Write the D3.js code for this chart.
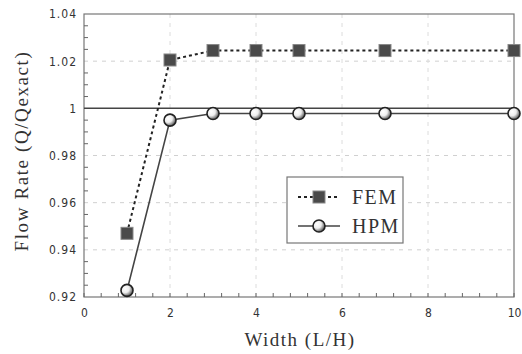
<!DOCTYPE html>
<html><head><meta charset="utf-8">
<script src="https://cdn.jsdelivr.net/npm/d3@7"></script>
<style>body{margin:0;background:#fff}svg{display:block}</style>
</head><body>
<script>
const xValues = [1, 2, 3, 4, 5, 7, 10];
const femValues = [0.947, 1.0205, 1.0245, 1.0245, 1.0245, 1.0245, 1.0245];
const hpmValues = [0.9228, 0.995, 0.9978, 0.9978, 0.9978, 0.9978, 0.9978];
const xTicks = [0, 2, 4, 6, 8, 10];
const yTicks = [0.92, 0.94, 0.96, 0.98, 1, 1.02, 1.04];
const yTickLabels = ["0.92", "0.94", "0.96", "0.98", "1", "1.02", "1.04"];
const seriesNames = ["FEM", "HPM"];

const W = 522, H = 354;
const L = 84, R = 514, T = 14, B = 297;
const svg = d3.select("body").append("svg").attr("width", W).attr("height", H);
const defs = svg.append("defs");
const rg = defs.append("radialGradient").attr("id", "ball").attr("cx", "35%").attr("cy", "35%").attr("r", "75%");
rg.append("stop").attr("offset", "0%").attr("stop-color", "#fff");
rg.append("stop").attr("offset", "45%").attr("stop-color", "#eee");
rg.append("stop").attr("offset", "80%").attr("stop-color", "#777");
rg.append("stop").attr("offset", "100%").attr("stop-color", "#333");

const x = d3.scaleLinear().domain([0, 10]).range([L, R]);
const y = d3.scaleLinear().domain([0.92, 1.04]).range([B, T]);

// gridlines
const grid = svg.append("g");
grid.selectAll(".hg").data(yTicks.filter(v => v > 0.921 && v < 1.039 && Math.abs(v - 1) > 1e-6)).join("line")
  .attr("x1", L).attr("x2", R).attr("y1", d => y(d)).attr("y2", d => y(d))
  .attr("stroke", "#d0d0d0").attr("stroke-width", 1).attr("stroke-dasharray", "4,5");
grid.selectAll(".vg").data(xTicks.filter(v => v > 0 && v < 10)).join("line")
  .attr("x1", d => x(d)).attr("x2", d => x(d)).attr("y1", T).attr("y2", B)
  .attr("stroke", "#dcdcdc").attr("stroke-width", 1).attr("stroke-dasharray", "4,5");

// frame
svg.append("rect").attr("x", L).attr("y", T).attr("width", R - L).attr("height", B - T)
  .attr("fill", "none").attr("stroke", "#777").attr("stroke-width", 1.2);

// minor ticks (inward)
const yMinor = d3.range(0, 25).map(i => 0.92 + i * 0.005);
svg.append("g").selectAll("line").data(yMinor).join("line")
  .attr("x1", L).attr("x2", d => L + (Math.round(d * 1000) % 20 === 0 ? 0 : 4))
  .attr("y1", d => y(d)).attr("y2", d => y(d)).attr("stroke", "#666").attr("stroke-width", 1);
const xMinor = d3.range(0, 26).map(i => i * 0.4);
svg.append("g").selectAll("line").data(xMinor).join("line")
  .attr("x1", d => x(d)).attr("x2", d => x(d)).attr("y1", B).attr("y2", B - 4)
  .attr("stroke", "#666").attr("stroke-width", 1);

// reference line y=1
svg.append("line").attr("x1", L).attr("x2", R).attr("y1", y(1)).attr("y2", y(1))
  .attr("stroke", "#444").attr("stroke-width", 1.5);

// axes labels via d3 axes
const yAxis = d3.axisLeft(y).tickValues(yTicks).tickFormat((d, i) => yTickLabels[i]).tickSize(0).tickPadding(7);
const gy = svg.append("g").attr("transform", `translate(${L},0)`).call(yAxis);
gy.select(".domain").remove();
gy.selectAll("text").attr("font-family", "'Liberation Sans Narrow', 'DejaVu Sans Condensed', sans-serif")
  .attr("font-size", 12).attr("fill", "#333").attr("letter-spacing", "1px");

const xAxis = d3.axisBottom(x).tickValues(xTicks).tickFormat(d3.format("d")).tickSize(0).tickPadding(11);
const gx = svg.append("g").attr("transform", `translate(0,${B})`).call(xAxis);
gx.select(".domain").remove();
gx.selectAll("text").attr("font-family", "'Liberation Sans Narrow', 'DejaVu Sans Condensed', sans-serif")
  .attr("font-size", 12).attr("fill", "#333");

// titles
svg.append("text").attr("x", 300).attr("y", 346).attr("text-anchor", "middle")
  .attr("font-family", "'Liberation Serif', serif").attr("font-size", 19).attr("letter-spacing", "1.5px")
  .attr("fill", "#333").text("Width (L/H)");
svg.append("text").attr("transform", "translate(28,151) rotate(-90)").attr("text-anchor", "middle")
  .attr("font-family", "'Liberation Serif', serif").attr("font-size", 19).attr("letter-spacing", "1.6px")
  .attr("fill", "#333").text("Flow Rate (Q/Qexact)");

// series
const femData = xValues.map((v, i) => [v, femValues[i]]);
const hpmData = xValues.map((v, i) => [v, hpmValues[i]]);
const line = d3.line().x(d => x(d[0])).y(d => y(d[1]));

svg.append("path").attr("d", line(hpmData)).attr("fill", "none")
  .attr("stroke", "#444").attr("stroke-width", 1.6);
svg.append("path").attr("d", line(femData)).attr("fill", "none")
  .attr("stroke", "#222").attr("stroke-width", 2).attr("stroke-dasharray", "3,3");

svg.append("g").selectAll("rect").data(femData).join("rect")
  .attr("x", d => x(d[0]) - 6).attr("y", d => y(d[1]) - 6).attr("width", 12).attr("height", 12)
  .attr("fill", "#4a4a4a").attr("stroke", "#888").attr("stroke-width", 1);
svg.append("g").selectAll("circle").data(hpmData).join("circle")
  .attr("cx", d => x(d[0])).attr("cy", d => y(d[1])).attr("r", 6)
  .attr("fill", "url(#ball)").attr("stroke", "#222").attr("stroke-width", 1.6);

// legend
const lg = svg.append("g");
lg.append("rect").attr("x", 287).attr("y", 177).attr("width", 116).attr("height", 66)
  .attr("fill", "#fff").attr("stroke", "#777").attr("stroke-width", 1.2);
const legY = [197, 226];
lg.append("line").attr("x1", 298).attr("x2", 340).attr("y1", legY[0]).attr("y2", legY[0])
  .attr("stroke", "#222").attr("stroke-width", 2).attr("stroke-dasharray", "3,3");
lg.append("rect").attr("x", 313).attr("y", legY[0] - 6).attr("width", 12).attr("height", 12)
  .attr("fill", "#4a4a4a").attr("stroke", "#888");
lg.append("line").attr("x1", 298).attr("x2", 340).attr("y1", legY[1]).attr("y2", legY[1])
  .attr("stroke", "#444").attr("stroke-width", 1.6);
lg.append("circle").attr("cx", 319).attr("cy", legY[1]).attr("r", 6)
  .attr("fill", "url(#ball)").attr("stroke", "#222").attr("stroke-width", 1.6);
lg.selectAll("text").data(seriesNames).join("text")
  .attr("x", 352).attr("y", (d, i) => legY[i] + 7)
  .attr("font-family", "'Liberation Serif', serif").attr("font-size", 20).attr("letter-spacing", "1.5px")
  .attr("fill", "#333").text(d => d);
</script>
</body></html>
